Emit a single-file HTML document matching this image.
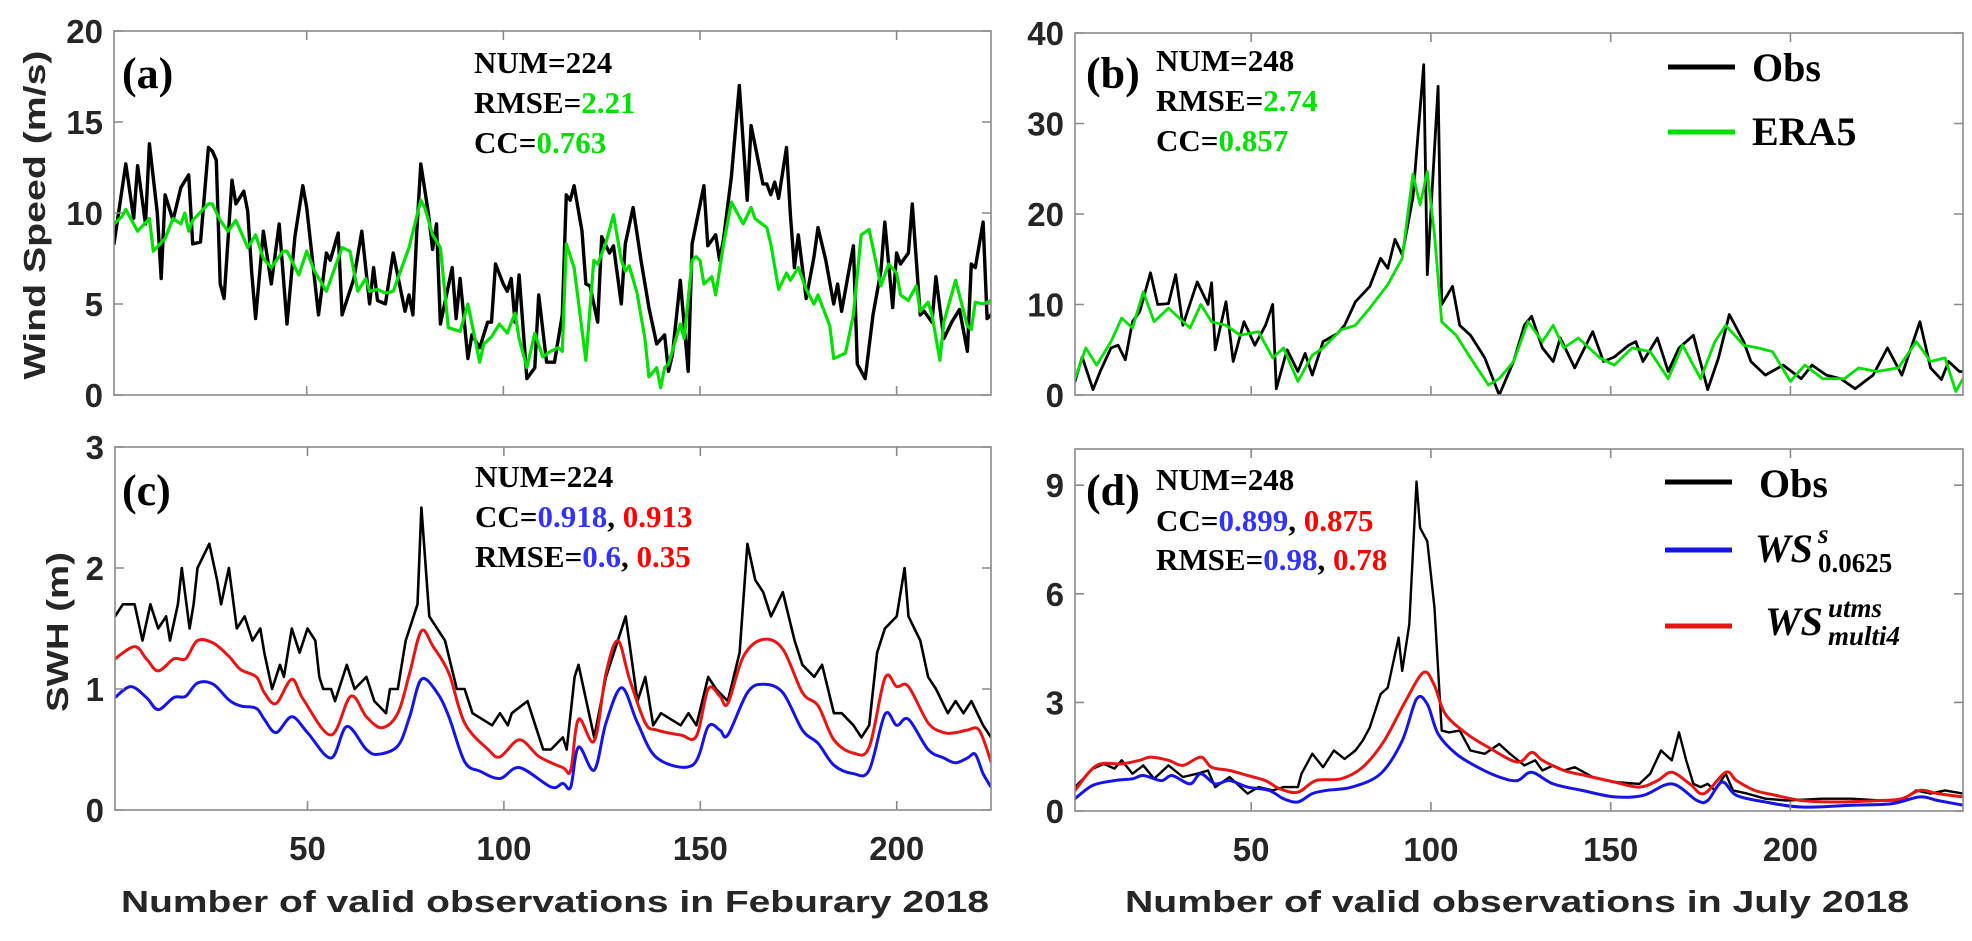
<!DOCTYPE html>
<html><head><meta charset="utf-8"><style>
html,body{margin:0;padding:0;background:#fff;}
svg{display:block;}
.tick{font-family:"Liberation Sans",sans-serif;font-weight:bold;font-size:33px;fill:#262626;}
.ann{font-family:"Liberation Serif",serif;font-weight:bold;font-size:31px;fill:#000;}
.lbl{font-family:"Liberation Serif",serif;font-weight:bold;font-size:44px;fill:#000;}
.ttl{font-family:"Liberation Sans",sans-serif;font-weight:bold;font-size:31px;fill:#262626;}
</style></head><body>
<svg id="fig" width="1972" height="941" viewBox="0 0 1972 941" xmlns="http://www.w3.org/2000/svg">
<g id="marks"></g>
<g id="axes"></g>

<text class="lbl" x="122" y="88">(a)</text>
<text class="ann" x="474" y="73">NUM=224</text>
<text class="ann" x="474" y="113">RMSE=<tspan fill="#00e000">2.21</tspan></text>
<text class="ann" x="474" y="153">CC=<tspan fill="#00e000">0.763</tspan></text>

<text class="lbl" x="1086" y="88">(b)</text>
<text class="ann" x="1156" y="71">NUM=248</text>
<text class="ann" x="1156" y="111">RMSE=<tspan fill="#00e000">2.74</tspan></text>
<text class="ann" x="1156" y="151">CC=<tspan fill="#00e000">0.857</tspan></text>

<g>
<line x1="1668" y1="67" x2="1735" y2="67" stroke="#000" stroke-width="5"/>
<text class="lbl" style="font-size:40px" x="1752" y="81">Obs</text>
<line x1="1668" y1="132" x2="1735" y2="132" stroke="#00e000" stroke-width="5"/>
<text class="lbl" style="font-size:40px" x="1752" y="145">ERA5</text>
</g>

<text class="lbl" x="122" y="505">(c)</text>
<text class="ann" x="475" y="487">NUM=224</text>
<text class="ann" x="475" y="527">CC=<tspan fill="#3333ff">0.918</tspan>, <tspan fill="#ff0000">0.913</tspan></text>
<text class="ann" x="475" y="567">RMSE=<tspan fill="#3333ff">0.6</tspan>, <tspan fill="#ff0000">0.35</tspan></text>

<text class="lbl" x="1086" y="505">(d)</text>
<text class="ann" x="1156" y="490">NUM=248</text>
<text class="ann" x="1156" y="531">CC=<tspan fill="#3333ff">0.899</tspan>, <tspan fill="#ff0000">0.875</tspan></text>
<text class="ann" x="1156" y="570">RMSE=<tspan fill="#3333ff">0.98</tspan>, <tspan fill="#ff0000">0.78</tspan></text>

<g>
<line x1="1665" y1="482" x2="1732" y2="482" stroke="#000" stroke-width="5"/>
<text class="lbl" style="font-size:40px" x="1759" y="497">Obs</text>
<line x1="1665" y1="550" x2="1732" y2="550" stroke="#1515e8" stroke-width="5"/>
<text style="font-family:'Liberation Serif',serif;font-style:italic;font-weight:bold;font-size:40px" x="1755" y="562">WS</text>
<text style="font-family:'Liberation Serif',serif;font-style:italic;font-weight:bold;font-size:27px" x="1818" y="543">s</text>
<text style="font-family:'Liberation Serif',serif;font-weight:bold;font-size:27px" x="1818" y="572">0.0625</text>
<line x1="1665" y1="626" x2="1732" y2="626" stroke="#e81515" stroke-width="5"/>
<text style="font-family:'Liberation Serif',serif;font-style:italic;font-weight:bold;font-size:40px" x="1765" y="635">WS</text>
<text style="font-family:'Liberation Serif',serif;font-style:italic;font-weight:bold;font-size:27px" x="1828" y="617">utms</text>
<text style="font-family:'Liberation Serif',serif;font-style:italic;font-weight:bold;font-size:27px" x="1828" y="645">multi4</text>
</g>

<text class="ttl" x="555" y="912" text-anchor="middle" textLength="868" lengthAdjust="spacingAndGlyphs">Number of valid observations in Feburary 2018</text>
<text class="ttl" x="1517" y="912" text-anchor="middle" textLength="784" lengthAdjust="spacingAndGlyphs">Number of valid observations in July 2018</text>
<text class="ttl" transform="translate(45,215) rotate(-90)" text-anchor="middle" textLength="329" lengthAdjust="spacingAndGlyphs">Wind Speed (m/s)</text>
<text class="ttl" transform="translate(68,632) rotate(-90)" text-anchor="middle" textLength="160" lengthAdjust="spacingAndGlyphs">SWH (m)</text>
</svg>
<script>
const aObsX=[1,4,6,7,9,10,12,13,14,16,18,20,21,23,25,26,27,28,29,31,32,34,35,36,37,39,41,43,45,47,49,50,53,55,56,58,59,62,64,66,67,68,70,72,75,76,77,78,79,81,82,83,84,87,88,89,91,92,94,96,97,98,100,101,102,103,104,106,108,109,111,113,115,116,117,118,120,121,122,124,125,127,128,130,131,133,135,137,139,141,142,143,145,147,148,151,152,154,155,156,158,160,162,163,166,167,168,169,170,172,173,174,175,177,179,180,182,184,185,186,189,190,192,194,196,197,199,200,201,203,204,206,207,209,210,212,214,216,218,219,220,222,223,224];
const aObsY=[8.3,12.7,9.7,12.6,9.4,13.8,10,6.4,11,9.6,11.4,12.1,8.3,8.4,13.6,13.4,12.9,6.1,5.3,11.8,10.5,11.2,10.1,6.8,4.2,9,6.1,9.4,3.9,8.7,11.5,10.3,4.4,7.8,7.4,8.9,4.4,6.4,9,5,7,5.2,5,7.8,4.6,5.5,4.4,9,12.7,9.9,8,9.4,3.9,7,4.2,6.4,2,3.3,2.6,4,4,7.2,6.1,5.7,6.4,4,6.6,0.9,1.5,5.5,1.8,1.8,4.4,11,10.7,11.5,9,6.1,6,4,8.7,7.8,8.2,5,8.3,10.3,7.4,4.8,2.8,3.3,1.3,2.2,6.3,1.3,8.3,11.5,8.2,8.8,7.4,8.6,12,17,10.7,14.8,11.6,11.6,11,11.7,10.8,13.6,9.9,7,8.8,5.3,7.6,9.2,7.4,5,6.1,4.6,8.2,1.7,0.9,4.4,6.8,9.5,4.8,7.8,7.2,7.8,10.5,4.4,4.6,4,6.5,3.1,4,4.7,2.4,7.2,7,9.5,4.2,4.4,9.9];
const aEraX=[1,3,4,7,10,11,14,16,18,19,20,21,25,26,28,30,32,35,37,39,41,44,45,48,50,52,55,59,61,63,65,66,68,70,72,76,79,80,82,84,86,89,91,94,95,97,99,101,103,104,106,108,110,112,114,115,116,118,121,123,124,126,128,130,131,132,134,136,137,139,140,141,142,145,146,148,149,150,151,153,154,156,158,161,163,164,167,168,170,172,173,175,177,179,180,183,184,187,189,191,193,196,198,200,201,203,205,206,208,209,211,212,215,218,219,220,222,224];
const aEraY=[9.4,9.8,10.2,9,9.7,7.9,8.6,9.7,9.4,10,9,9.6,10.5,10.5,9.6,9,9.6,8.1,8.8,7.5,7,7.9,7.9,6.6,7.9,6.8,5.7,8.1,7.9,5.7,6.4,5.7,5.8,5.6,5.7,8.1,10.7,10.3,8.8,8.1,3.7,3.5,5,1.8,2.8,3.2,3.9,3.4,4.5,3.1,1.5,3.4,2.1,2.4,2.6,2.4,8.3,7,1.9,7.4,7.2,8.3,9.9,7.4,6.8,7.1,5.6,3.1,1,1.5,0.4,1.5,1.7,3.9,3.1,7.4,7.6,7.4,6.1,6.5,5.5,8.3,10.6,9.4,10.3,9.7,9.2,8.3,5.8,6.7,6.3,7,5.8,5,5.5,3.8,2,2.3,4.4,8.8,9.1,6,7.2,6.7,5.5,5.2,6,4.6,5.1,4.4,1.9,4,6.3,3.8,3.6,5.1,5,5.2];
const bObsX=[1,3,6,8,11,13,15,17,19,22,24,27,29,31,35,38,39,40,43,45,48,51,54,56,57,60,63,65,67,70,74,76,79,83,86,88,90,92,95,98,99,102,103,106,108,111,115,119,123,126,128,131,134,136,140,145,148,151,155,157,159,163,166,169,173,177,180,183,187,189,193,198,203,206,210,214,218,223,227,231,236,239,242,244,247,248];
const bObsY=[1.5,4.2,0.6,2.6,5.2,5.5,3.9,8.1,9.2,13.5,10,10.1,13.3,7.7,12.5,10,12.4,5,10.3,3.7,8.1,5.5,7.7,10,0.7,5,2.6,4.6,2.2,5.9,6.8,7.7,10.3,12,15.1,14,17.2,15.5,21.8,36.5,13.3,34.1,10,12,7.7,6.6,4.1,0,3.7,7.7,8.7,5.2,3.7,6.3,3,7,3.7,4.2,5.5,5.9,3.7,6.3,2.6,5.2,6.6,0.6,4.1,8.9,5.9,3.7,2.2,3.3,1.8,3.3,2.2,1.8,0.7,2.2,5.2,2.2,8.1,3,1.7,3.7,2.6,2.6];
const bEraX=[1,4,7,11,14,17,20,23,27,33,36,39,43,47,52,56,59,63,67,70,75,79,83,88,92,95,97,99,101,103,107,111,116,119,123,127,131,134,137,141,147,151,156,161,166,170,175,179,182,187,191,195,200,204,209,215,219,224,230,235,239,243,246,248];
const bEraY=[1.8,5.2,3.3,5.9,8.5,7.4,11.4,8.1,9.6,7.4,10,8.1,7.7,6.6,7,4.1,5.2,1.5,4.4,5.2,7.2,7.7,9.6,12.2,15.1,24.4,21,24.7,17.7,8.1,6.6,4.1,1.1,1.8,3.7,8.1,5.9,7.7,5.2,6.3,4.1,3.3,5.2,4.8,1.8,5.5,1.8,5.9,7.7,5.5,5.2,4.8,1.5,3.3,1.8,1.8,3,2.6,3,5.9,3.7,4.1,0.4,1.8];
const cObsX=[1,3,6,8,10,12,14,15,17,18,20,21,22,25,27,28,30,32,34,36,38,39,41,43,44,46,48,50,52,53,54,56,57,60,62,65,67,70,71,73,75,78,79,81,85,88,90,92,97,99,101,102,106,108,110,112,115,116,118,119,123,126,129,131,134,136,138,140,145,147,149,152,154,157,160,162,164,166,168,171,174,176,179,181,184,186,189,191,193,195,197,200,202,203,206,208,210,213,215,217,219,222,224];
const cObsY=[1.6,1.7,1.7,1.4,1.7,1.5,1.6,1.4,1.7,2.0,1.5,1.7,2.0,2.2,1.9,1.7,2.0,1.5,1.6,1.4,1.5,1.3,1.0,1.2,1.1,1.5,1.3,1.5,1.4,1.1,1.0,1.0,0.9,1.2,1.0,1.1,0.9,0.8,1.0,1.0,1.4,1.7,2.5,1.6,1.4,1.0,1.0,0.8,0.7,0.8,0.7,0.8,0.9,0.7,0.5,0.5,0.6,0.5,1.1,1.2,0.6,1.1,1.4,1.6,0.9,1.1,0.7,0.8,0.7,0.8,0.7,1.1,1.0,0.9,1.3,2.2,1.9,1.8,1.6,1.8,1.4,1.2,1.1,1.2,0.8,0.8,0.7,0.6,0.7,1.3,1.5,1.6,2.0,1.6,1.4,1.1,1.0,0.8,0.9,0.8,0.9,0.7,0.6];
const cRedX=[1,6,9,12,16,19,22,26,30,33,37,39,42,46,49,56,61,65,69,73,76,79,82,86,90,96,99,104,109,115,117,119,123,126,129,132,136,139,145,149,152,155,157,161,166,171,176,180,184,189,193,197,200,203,208,212,215,218,221,224];
const cRedY=[1.25,1.35,1.25,1.15,1.25,1.25,1.4,1.38,1.27,1.16,1.1,0.97,0.88,1.08,0.91,0.62,0.94,0.77,0.68,0.8,1.13,1.48,1.35,1.13,0.72,0.5,0.44,0.58,0.44,0.35,0.33,0.75,0.57,1.13,1.4,1.08,0.72,0.66,0.62,0.61,1.0,0.94,0.88,1.27,1.41,1.33,0.97,0.86,0.58,0.47,0.52,1.09,1.02,1.02,0.72,0.64,0.64,0.66,0.66,0.4];
const cBlueX=[1,5,9,12,16,19,22,26,30,33,37,39,42,46,50,56,60,65,68,73,76,79,83,86,90,94,99,104,112,115,117,119,123,126,130,134,139,148,152,155,157,162,166,171,176,180,184,189,193,197,200,203,208,212,215,218,220,222,224];
const cBlueY=[0.93,1.02,0.93,0.83,0.93,0.94,1.05,1.04,0.91,0.86,0.84,0.75,0.64,0.77,0.64,0.43,0.69,0.5,0.46,0.53,0.77,1.08,0.97,0.77,0.4,0.32,0.26,0.35,0.19,0.22,0.19,0.52,0.33,0.72,1.01,0.72,0.43,0.37,0.69,0.66,0.62,0.97,1.04,0.97,0.66,0.55,0.37,0.3,0.33,0.79,0.7,0.75,0.5,0.43,0.39,0.43,0.46,0.3,0.19];
const dObsX=[1,6,9,12,14,17,20,23,27,31,35,38,40,44,49,52,56,59,63,64,67,70,73,76,79,81,83,86,88,91,92,94,96,97,99,101,103,105,108,111,115,119,122,126,129,131,134,137,140,145,151,158,161,164,167,169,171,173,175,177,179,182,184,188,193,199,209,217,225,231,235,239,243,248];
const dObsY=[0.66,1.17,1.3,1.17,1.4,1.03,1.26,0.89,1.26,0.94,1.03,1.12,0.66,0.94,0.48,0.66,0.57,0.66,0.66,1.03,1.58,1.21,1.67,1.44,1.67,1.94,2.31,3.23,3.41,4.79,3.87,5.16,9.1,7.82,7.45,5.61,2.22,2.17,2.22,1.67,1.58,1.85,1.58,1.26,1.4,1.12,1.26,1.12,1.21,0.94,0.8,0.75,1.03,1.67,1.4,2.17,1.4,0.75,0.66,0.75,0.57,1.03,0.57,0.48,0.34,0.29,0.34,0.34,0.29,0.29,0.57,0.48,0.57,0.48];
const dRedX=[1,7,14,19,22,27,31,36,39,44,49,54,58,63,68,75,81,87,93,98,101,104,110,116,124,128,131,137,143,151,158,163,167,172,176,182,185,190,196,203,212,225,231,236,241,248];
const dRedY=[0.57,1.26,1.3,1.4,1.49,1.4,1.26,1.49,1.21,1.12,0.98,0.84,0.61,0.52,0.84,0.89,1.21,1.94,3.05,3.83,3.46,2.68,2.13,1.76,1.35,1.62,1.4,1.12,0.98,0.8,0.66,0.84,1.07,0.75,0.48,1.07,0.84,0.57,0.43,0.29,0.25,0.29,0.34,0.57,0.48,0.39];
const dBlueX=[1,6,12,17,20,25,28,33,36,40,44,49,55,59,63,67,71,78,86,92,96,99,102,107,113,119,124,128,134,142,151,159,167,174,177,181,185,193,203,217,228,236,241,248];
const dBlueY=[0.34,0.71,0.84,0.89,0.98,0.84,0.98,0.75,1.03,0.75,0.84,0.66,0.57,0.34,0.25,0.48,0.57,0.66,1.03,1.94,3.09,2.95,2.13,1.58,1.21,0.94,0.84,1.07,0.75,0.57,0.39,0.43,0.75,0.29,0.29,0.8,0.43,0.25,0.11,0.16,0.2,0.39,0.29,0.16];

const xTicks=[50,100,150,200];
const aTicks=[0,5,10,15,20], bTicks=[0,10,20,30,40], cTicks=[0,1,2,3], dTicks=[0,3,6,9];

const NS='http://www.w3.org/2000/svg';
const marks=document.getElementById('marks'), axesG=document.getElementById('axes');
function mk(tag,attrs,parent){const e=document.createElementNS(NS,tag);for(const k in attrs)e.setAttribute(k,attrs[k]);parent.appendChild(e);return e;}
function linearPath(P){return P.map((p,i)=>(i?'L':'M')+p[0].toFixed(1)+','+p[1].toFixed(1)).join('');}
function smoothPath(P){
  let d='M'+P[0][0].toFixed(1)+','+P[0][1].toFixed(1);
  for(let i=0;i<P.length-1;i++){
    const p0=P[Math.max(0,i-1)],p1=P[i],p2=P[i+1],p3=P[Math.min(P.length-1,i+2)];
    const c1x=p1[0]+(p2[0]-p0[0])/6,c1y=p1[1]+(p2[1]-p0[1])/6;
    const c2x=p2[0]-(p3[0]-p1[0])/6,c2y=p2[1]-(p3[1]-p1[1])/6;
    d+='C'+c1x.toFixed(1)+','+c1y.toFixed(1)+' '+c2x.toFixed(1)+','+c2y.toFixed(1)+' '+p2[0].toFixed(1)+','+p2[1].toFixed(1);
  }
  return d;
}

const panels=[
 {id:'a',L:114,R:991,T:31,B:395,xmax:224,ymax:20,yt:aTicks,xlab:false,
  series:[[aObsX,aObsY,'#000',3.4,'obs-wind-feb',false],[aEraX,aEraY,'#00e000',3.2,'era5-wind-feb',false]]},
 {id:'b',L:1075,R:1963,T:33,B:395,xmax:248,ymax:40,yt:bTicks,xlab:false,
  series:[[bObsX,bObsY,'#000',2.8,'obs-wind-jul',false],[bEraX,bEraY,'#00e000',2.8,'era5-wind-jul',false]]},
 {id:'c',L:115,R:991,T:447,B:810,xmax:224,ymax:3,yt:cTicks,xlab:true,
  series:[[cObsX,cObsY,'#000',2.6,'obs-swh-feb',false],[cRedX,cRedY,'#e81515',3,'ws-utms-swh-feb',true],[cBlueX,cBlueY,'#1515e8',3,'ws-s-swh-feb',true]]},
 {id:'d',L:1075,R:1963,T:449,B:811,xmax:248,ymax:10,yt:dTicks,xlab:true,
  series:[[dObsX,dObsY,'#000',2.4,'obs-swh-jul',false],[dRedX,dRedY,'#e81515',3,'ws-utms-swh-jul',true],[dBlueX,dBlueY,'#1515e8',3,'ws-s-swh-jul',true]]}
];

panels.forEach(p=>{
  const sx=v=>p.L+(v-1)/(p.xmax-1)*(p.R-p.L);
  const sy=v=>p.B-v/p.ymax*(p.B-p.T);
  const clip=mk('clipPath',{id:'clip-'+p.id},marks);
  mk('rect',{x:p.L,y:p.T,width:p.R-p.L,height:p.B-p.T},clip);
  const g=mk('g',{'clip-path':'url(#clip-'+p.id+')'},marks);
  
  
  p.series.forEach(s=>{
    const [xs,ys,col,w,nm,smooth]=s;
    const P=xs.map((x,i)=>[sx(x),sy(ys[i])]);
    const d=smooth?smoothPath(P):linearPath(P);
    const path=mk('path',{d:d,fill:'none',stroke:col,'stroke-width':w,'stroke-linejoin':'round','stroke-linecap':'round'},g);
    
    
  });
  const box=mk('rect',{x:p.L,y:p.T,width:p.R-p.L,height:p.B-p.T,fill:'none',stroke:'#8a8a8a','stroke-width':1.6},axesG);
  
  
  xTicks.forEach(t=>{
    const x=sx(t);
    const tk=mk('path',{d:`M${x},${p.B}V${p.B-9}M${x},${p.T}V${p.T+9}`,stroke:'#8a8a8a','stroke-width':1.6},axesG);
    
    
    if(p.xlab){
      const tl=mk('text',{x:x,y:p.B+50,'text-anchor':'middle',class:'tick'},axesG);
      tl.textContent=t;
      
      
    }
  });
  p.yt.forEach(t=>{
    const y=sy(t);
    const tk=mk('path',{d:`M${p.L},${y}H${p.L+9}M${p.R},${y}H${p.R-9}`,stroke:'#8a8a8a','stroke-width':1.6},axesG);
    
    
    const tl=mk('text',{x:p.L-11,y:y+12,'text-anchor':'end',class:'tick'},axesG);
    tl.textContent=t;
    
    
  });
});
</script>
</body></html>
